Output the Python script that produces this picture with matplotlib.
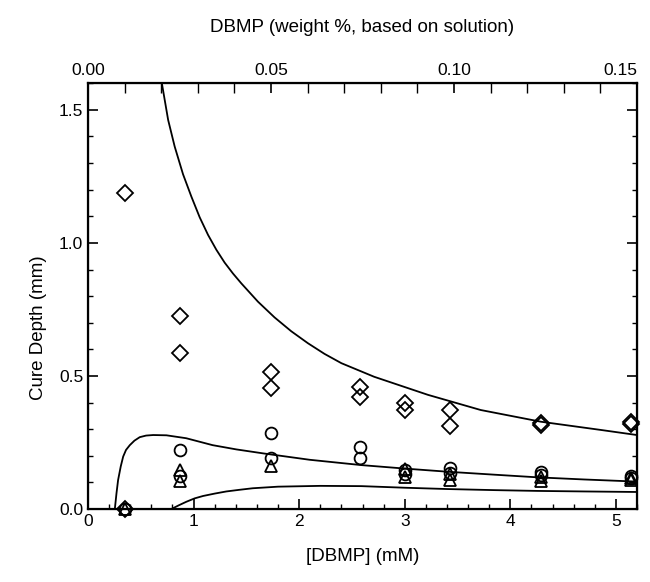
import matplotlib
matplotlib.use("Agg")
import matplotlib.pyplot as plt
from matplotlib.ticker import MultipleLocator

plt.rcParams['font.family'] = ['Liberation Sans', 'DejaVu Sans']

# ---- data ----
diamond_x = [0.35, 0.35, 0.87, 0.87, 1.73, 1.73, 2.58, 2.58, 3.0, 3.0, 3.43, 3.43, 4.29, 4.29, 5.14, 5.14]
diamond_y = [1.188, 0.0, 0.726, 0.588, 0.514, 0.454, 0.46, 0.422, 0.397, 0.372, 0.372, 0.312, 0.323, 0.315, 0.326, 0.318]

circle_x = [0.35, 0.87, 0.87, 1.73, 1.73, 2.58, 2.58, 3.0, 3.0, 3.43, 3.43, 4.29, 4.29, 5.14, 5.14]
circle_y = [0.0, 0.222, 0.125, 0.287, 0.19, 0.233, 0.19, 0.145, 0.13, 0.153, 0.135, 0.14, 0.128, 0.125, 0.118]

triangle_x = [0.35, 0.87, 0.87, 1.73, 3.0, 3.0, 3.43, 3.43, 4.29, 4.29, 5.14, 5.14]
triangle_y = [0.0, 0.145, 0.105, 0.16, 0.15, 0.12, 0.13, 0.11, 0.12, 0.105, 0.115, 0.11]

upper_x = [0.702, 0.759, 0.821, 0.90, 0.979, 1.058, 1.137, 1.216, 1.294, 1.373, 1.452, 1.61, 1.767,
           1.925, 2.083, 2.24, 2.40, 2.71, 3.22, 3.72, 4.29, 4.86, 5.20]
upper_y = [1.594, 1.462, 1.362, 1.258, 1.174, 1.096, 1.030, 0.974, 0.926, 0.885, 0.848, 0.779, 0.720,
           0.668, 0.623, 0.583, 0.548, 0.497, 0.429, 0.372, 0.328, 0.297, 0.278]

middle_x = [0.254, 0.27, 0.285, 0.31, 0.333, 0.36, 0.396, 0.44, 0.49, 0.55, 0.617, 0.743, 0.93, 1.18,
            1.405, 1.66, 2.1, 2.59, 3.0, 3.41, 3.85, 4.26, 4.7, 5.2]
middle_y = [0.0, 0.06, 0.109, 0.16, 0.197, 0.222, 0.24, 0.257, 0.27, 0.276, 0.278, 0.277, 0.266, 0.24,
            0.224, 0.209, 0.185, 0.165, 0.152, 0.14, 0.129, 0.119, 0.111, 0.103]

lower_x = [0.79, 0.86, 0.93, 1.01, 1.09, 1.2, 1.31, 1.43, 1.56, 1.8, 2.2, 2.59, 3.0, 3.41, 3.85, 4.26, 4.7, 5.2]
lower_y = [0.0, 0.014, 0.027, 0.04, 0.049, 0.058, 0.066, 0.072, 0.078, 0.084, 0.087, 0.086, 0.08, 0.075,
           0.071, 0.068, 0.066, 0.064]

x_max_mM = 5.2
wt_max = 0.15

fig = plt.figure(figsize=(6.5, 5.82), dpi=100)
ax = fig.add_axes([0.1354, 0.1254, 0.8446, 0.7316])

lw = 1.3
ax.plot(upper_x, upper_y, color='black', lw=lw)
ax.plot(middle_x, middle_y, color='black', lw=lw)
ax.plot(lower_x, lower_y, color='black', lw=lw)

mk = dict(linestyle='none', markerfacecolor='none', markeredgecolor='black',
          markeredgewidth=1.3, clip_on=False)
ax.plot(diamond_x, diamond_y, marker='D', markersize=8.5, **mk)
ax.plot(circle_x, circle_y, marker='o', markersize=8.5, **mk)
ax.plot(triangle_x, triangle_y, marker='^', markersize=8.5, **mk)

ax.set_xlim(0, x_max_mM)
ax.set_ylim(0, 1.6)
ax.xaxis.set_major_locator(MultipleLocator(1))
ax.xaxis.set_minor_locator(MultipleLocator(0.2))
ax.yaxis.set_major_locator(MultipleLocator(0.5))
ax.yaxis.set_minor_locator(MultipleLocator(0.1))
ax.yaxis.set_major_formatter(plt.FuncFormatter(lambda v, p: f"{v:.1f}"))
ax.tick_params(which='both', direction='in', right=True, top=False, labelsize=12.5)
ax.tick_params(which='major', length=7, width=1.2)
ax.tick_params(which='minor', length=3.5, width=1.0)
for s in ax.spines.values():
    s.set_linewidth(1.6)

ax.set_xlabel('[DBMP] (mM)', fontsize=13.5, labelpad=14)
ax.set_ylabel('Cure Depth (mm)', fontsize=13.5)
ax.yaxis.set_label_coords(-0.075, 0.427)

ax2 = ax.twiny()
ax2.set_xlim(0, wt_max)
ax2.xaxis.set_major_locator(MultipleLocator(0.05))
ax2.xaxis.set_minor_locator(MultipleLocator(0.01))
ax2.xaxis.set_major_formatter(plt.FuncFormatter(lambda v, p: f"{v:.2f}"))
ax2.tick_params(which='both', direction='in', labelsize=12.5)
ax2.tick_params(which='major', length=7, width=1.2, pad=4)
ax2.tick_params(which='minor', length=7, width=1.0)
ax2.set_xlabel('DBMP (weight %, based on solution)', fontsize=13.5, labelpad=22)

fig.canvas.draw()
for t in ax2.get_xticklabels():
    if t.get_text() == '0.15':
        t.set_horizontalalignment('right')

fig.savefig('out.png', dpi=100)
